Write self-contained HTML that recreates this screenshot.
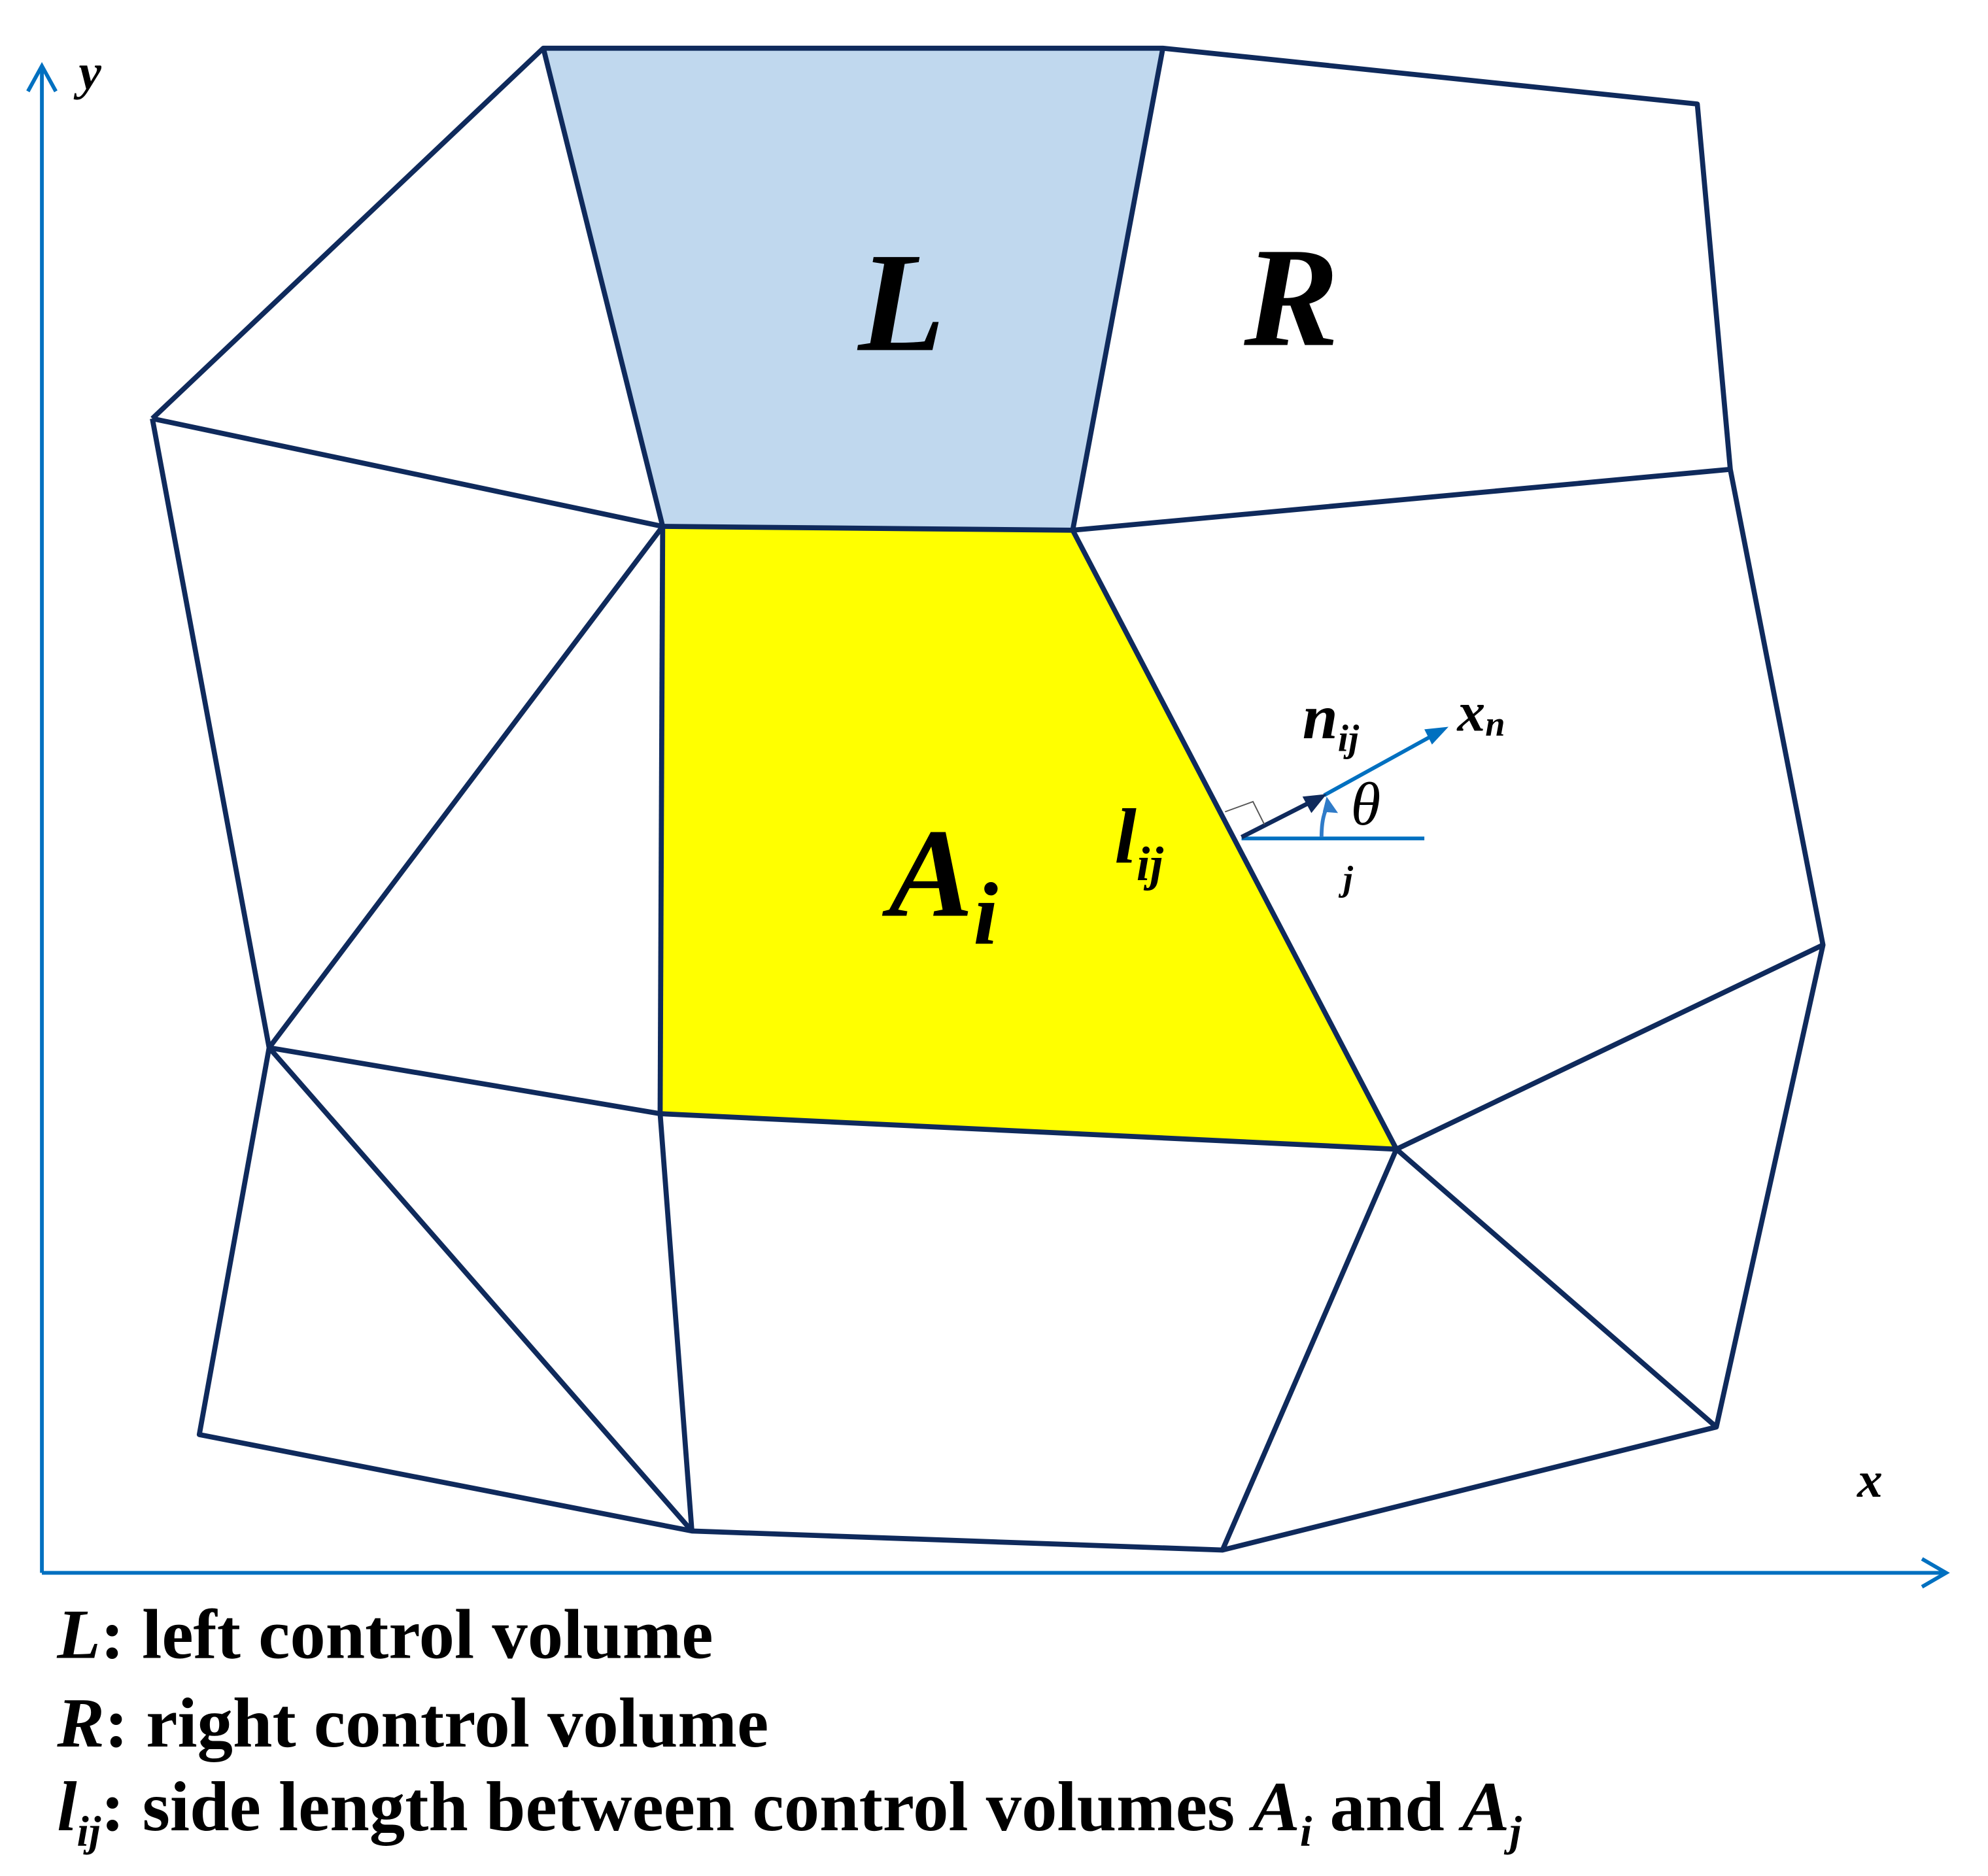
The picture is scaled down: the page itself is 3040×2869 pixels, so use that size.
<!DOCTYPE html>
<html><head><style>html,body{margin:0;padding:0;background:#fff}svg{display:block}</style></head>
<body>
<svg width="3040" height="2869" viewBox="0 0 1566 1479" preserveAspectRatio="none" xmlns="http://www.w3.org/2000/svg" font-family="Liberation Serif, serif">
<polygon points="428,38 916,38 845,418 522,415" fill="#c0d8ee"/>
<polygon points="522,415 845,418 1100,906 520,878" fill="#ffff00"/>
<g stroke="#0f2a5c" stroke-width="4" fill="none" stroke-linejoin="round">
<polyline points="120,330 428,38 916,38 1337,82 1363,370 1436,745 1352,1125 963,1222 545,1207 157,1131 212,826 120,330"/>
<line x1="428" y1="38" x2="522" y2="415"/>
<line x1="916" y1="38" x2="845" y2="418"/>
<line x1="120" y1="330" x2="522" y2="415"/>
<line x1="522" y1="415" x2="845" y2="418"/>
<line x1="845" y1="418" x2="1363" y2="370"/>
<line x1="522" y1="415" x2="212" y2="826"/>
<line x1="522" y1="415" x2="520" y2="878"/>
<line x1="845" y1="418" x2="1100" y2="906"/>
<line x1="1436" y1="745" x2="1100" y2="906"/>
<line x1="212" y1="826" x2="520" y2="878"/>
<line x1="520" y1="878" x2="1100" y2="906"/>
<line x1="212" y1="826" x2="545" y2="1207"/>
<line x1="520" y1="878" x2="545" y2="1207"/>
<line x1="1100" y1="906" x2="963" y2="1222"/>
<line x1="1100" y1="906" x2="1352" y2="1125"/>
</g>
<g stroke="#0070c0" stroke-width="3" fill="none">
<line x1="33" y1="1240" x2="33" y2="52"/>
<polyline points="22,72 33,52 44,72"/>
<line x1="33" y1="1240" x2="1533" y2="1240"/>
<polyline points="1514,1229 1533,1240 1514,1251"/>
<line x1="978" y1="661" x2="1122" y2="661"/>
<line x1="1043" y1="627" x2="1130" y2="579"/>
</g>
<polygon points="1141,573 1122,575 1128,587" fill="#0070c0"/>
<line x1="978" y1="660" x2="1035" y2="631" stroke="#0f2a5c" stroke-width="3.5"/>
<polygon points="1045,626 1026,628 1033,641" fill="#0f2a5c"/>
<polyline points="965,640 987,632 996,650" fill="none" stroke="#555" stroke-width="1"/>
<path d="M1041,660 Q1041,640 1048,633" stroke="#2f7bc8" stroke-width="3" fill="none"/>
<polygon points="1045,628 1054,641 1042,640" fill="#2f7bc8"/>
<g font-weight="bold" font-style="italic" fill="#000">
<text x="62" y="70" font-size="40">y</text>
<text x="1463" y="1180" font-size="40">x</text>
<text x="676" y="276" font-size="112">L</text>
<text x="980" y="272" font-size="112">R</text>
<text x="700" y="722" font-size="100">A<tspan font-size="70" dy="22">i</tspan></text>
<text x="878" y="680" font-size="62">l<tspan font-size="38" dy="14">ij</tspan></text>
<text x="1026" y="582" font-size="50">n<tspan font-size="30" dy="10">ij</tspan></text>
<text x="1148" y="576" font-size="44">x<tspan font-size="28" dy="4">n</tspan></text>
<text x="1058" y="702" font-size="28">j</text>
</g>
<text x="1064" y="650" font-size="48" font-style="italic">θ</text>
<g font-size="56" font-weight="bold" fill="#000">
<text x="45" y="1307"><tspan font-style="italic">L</tspan>: left control volume</text>
<text x="45" y="1377"><tspan font-style="italic">R</tspan>: right control volume</text>
<text x="45" y="1443"><tspan font-style="italic">l<tspan font-size="34" dy="12">ij</tspan></tspan><tspan dy="-12">: side length between control volumes </tspan><tspan font-style="italic">A<tspan font-size="34" dy="12">i</tspan></tspan><tspan dy="-12"> and </tspan><tspan font-style="italic">A<tspan font-size="34" dy="12">j</tspan></tspan></text>
</g>
</svg>
</body></html>
